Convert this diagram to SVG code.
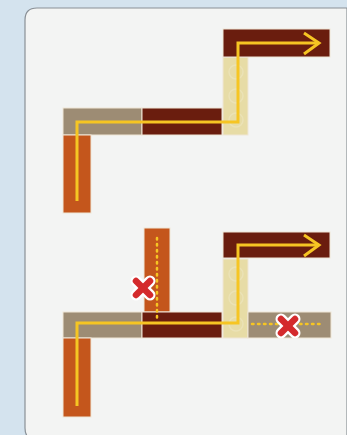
<svg xmlns="http://www.w3.org/2000/svg" width="347" height="435" viewBox="0 0 347 435">
  <defs>
    <style>
      .dk { fill: #6a1d0e; }
      .gy { fill: #9d8c74; }
      .or { fill: #c4561c; }
      .bg { fill: #e7dca6; }
      .bar { stroke: #efe6d6; stroke-width: 1; }
      .path { fill: none; stroke: #f6c523; stroke-width: 3; stroke-linejoin: miter; }
      .dot { fill: none; stroke: #f6c523; stroke-width: 2.5; stroke-linecap: round; stroke-dasharray: 1.5 4.5; }
      .xw { stroke: #ffffff; stroke-width: 11; stroke-linecap: round; }
      .xr { stroke: #d42a2c; stroke-width: 6.5; stroke-linecap: round; }
      .ring { fill: none; stroke: #ffffff; stroke-opacity: 0.18; stroke-width: 1.5; }
    </style>
  </defs>
  <rect x="0" y="0" width="347" height="435" fill="#d4e3ee"/>
  <path d="M25,20 Q25,8 37,8 L347,8 L347,440 L37,440 Q25,440 25,428 Z" fill="#f3f4f3" stroke="#8a9096" stroke-width="1.2"/>

  <!-- Top diagram -->
  <g id="top-bar-grey-left"><rect class="gy bar" x="63" y="108" width="79" height="27"/></g>
  <g id="top-bar-dark-mid"><rect class="dk bar" x="142" y="108" width="80" height="27"/></g>
  <g id="top-bar-beige"><rect class="bg bar" x="223" y="57" width="25" height="78"/>
    <circle class="ring" cx="236" cy="72" r="7"/><circle class="ring" cx="236" cy="96" r="7"/><circle class="ring" cx="236" cy="120" r="7"/></g>
  <g id="top-bar-dark-top"><rect class="dk bar" x="223" y="29" width="107" height="28"/></g>
  <g id="top-bar-orange"><rect class="or bar" x="63" y="135" width="28" height="78"/></g>

  <!-- Bottom diagram -->
  <g id="bot-bar-orange-top"><rect class="or bar" x="144" y="228" width="26" height="84"/></g>
  <g id="bot-bar-grey-left"><rect class="gy bar" x="63" y="312" width="79" height="26"/></g>
  <g id="bot-bar-dark-mid"><rect class="dk bar" x="142" y="312" width="80" height="26"/></g>
  <g id="bot-bar-beige"><rect class="bg bar" x="223" y="259" width="25" height="79"/>
    <circle class="ring" cx="236" cy="274" r="7"/><circle class="ring" cx="236" cy="298" r="7"/><circle class="ring" cx="236" cy="324" r="7"/></g>
  <g id="bot-bar-grey-right"><rect class="gy bar" x="248" y="312" width="83" height="26"/></g>
  <g id="bot-bar-dark-top"><rect class="dk bar" x="223" y="232" width="107" height="26"/></g>
  <g id="bot-bar-orange-left"><rect class="or bar" x="63" y="338" width="28" height="79"/></g>

  <g id="connectors">
    <path class="path" d="M77,201 L77,122 L238,122 L238,43 L319,43"/>
    <path class="path" d="M304,33 L319,43 L304,54"/>
    <path class="path" d="M77,406 L77,323 L238,323 L238,245 L319,245"/>
    <path class="path" d="M304,235 L319,245 L304,256"/>
    <path class="dot" d="M157,238 L157,320"/>
    <path class="dot" d="M252,324 L320,324"/>
  </g>

  <g id="cross-1">
    <line class="xw" x1="136" y1="281" x2="150" y2="295"/><line class="xw" x1="150" y1="281" x2="136" y2="295"/>
    <line class="xr" x1="136" y1="281" x2="150" y2="295"/><line class="xr" x1="150" y1="281" x2="136" y2="295"/>
  </g>
  <g id="cross-2">
    <line class="xw" x1="281" y1="319" x2="295" y2="333"/><line class="xw" x1="295" y1="319" x2="281" y2="333"/>
    <line class="xr" x1="281" y1="319" x2="295" y2="333"/><line class="xr" x1="295" y1="319" x2="281" y2="333"/>
  </g>
</svg>
